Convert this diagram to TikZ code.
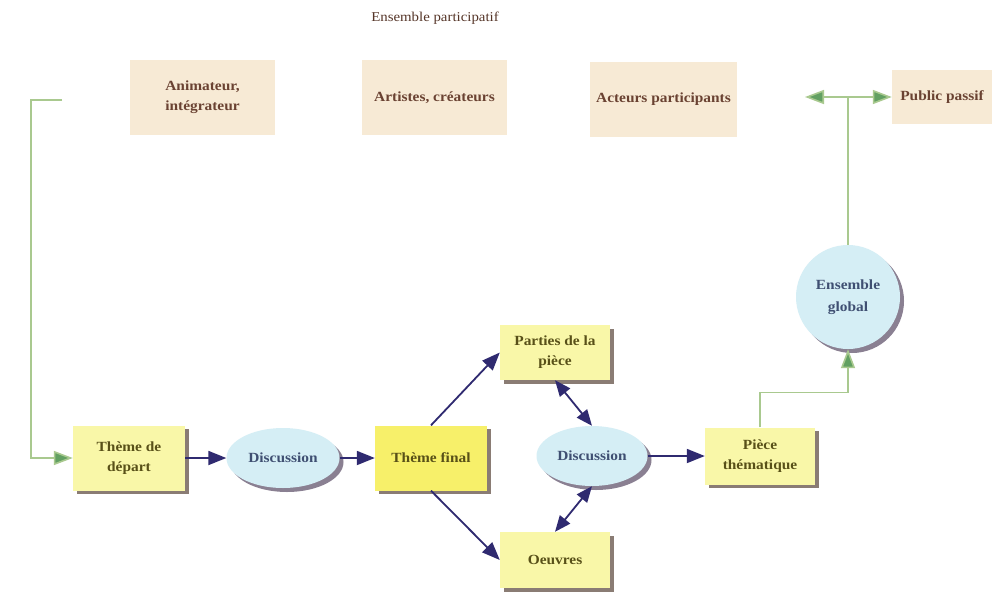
\documentclass[tikz,border=0pt]{standalone}
\usepackage{fontspec}
\setmainfont{Liberation Serif}[FakeStretch=1.1]
\usetikzlibrary{arrows.meta,shapes.geometric,shadows}
\definecolor{beige}{HTML}{F7EAD5}
\definecolor{lyel}{HTML}{F9F7A8}
\definecolor{byel}{HTML}{F7F06A}
\definecolor{lblue}{HTML}{D5EEF5}
\definecolor{shad}{HTML}{8A7C74}
\definecolor{eshad}{HTML}{8A8092}
\definecolor{brtext}{HTML}{6A4232}
\definecolor{oltext}{HTML}{585018}
\definecolor{bltext}{HTML}{3F4F72}
\definecolor{navy}{HTML}{2F2A70}
\definecolor{gline}{HTML}{A9C98F}
\definecolor{garrow}{HTML}{62A062}
\begin{document}
\begin{tikzpicture}[x=1pt,y=1pt,
  txt/.style={font=\fontsize{14}{20}\selectfont\bfseries, align=center},
  rolebox/.style={txt, fill=beige, text=brtext, inner sep=0pt},
  ybox/.style={txt, fill=lyel, text=oltext, inner sep=0pt, minimum width=110pt,
     drop shadow={shadow xshift=3.5pt, shadow yshift=-3.5pt, fill=shad, opacity=1}},
  ell/.style={txt, ellipse, fill=lblue, text=bltext, inner sep=0pt,
     drop shadow={shadow xshift=4pt, shadow yshift=-4pt, fill=eshad, opacity=1}},
  navyarrow/.style={draw=navy, line width=1.8pt, -{Triangle[length=18pt,width=14pt]}},
  navydbl/.style={draw=navy, line width=1.8pt, {Triangle[length=16pt,width=13pt]}-{Triangle[length=16pt,width=13pt]}},
  gl/.style={draw=gline, line width=1.6pt},
  garr/.style={gl, -{Triangle[length=19pt,width=14pt,fill=garrow]}},
]
\useasboundingbox (0,0) rectangle (998,-600);
\fill[white] (0,0) rectangle (998,-600);

% title
\node[font=\fontsize{13.5}{15}\selectfont, text=brtext!80!black] (title) at (435,-18) {Ensemble participatif};

% top row
\node[rolebox, minimum width=145pt, minimum height=75pt] (anim) at (202.5,-97.5) {Animateur,\\intégrateur};
\node[rolebox, minimum width=145pt, minimum height=75pt] (art) at (434.5,-97.5) {Artistes, créateurs};
\node[rolebox, minimum width=147pt, minimum height=75pt] (act) at (663.5,-99.5) {Acteurs participants};
\node[rolebox, minimum width=100pt, minimum height=54pt] (pub) at (942,-97) {Public passif};

% bottom flow
\node[ybox, minimum width=112pt, minimum height=65pt] (tdep) at (129,-458) {Thème de\\départ};
\node[ell, minimum width=113pt, minimum height=60pt] (disc1) at (283,-458) {Discussion};
\node[ybox, fill=byel, minimum width=112pt, minimum height=65pt] (tfin) at (431,-458) {Thème final};
\node[ybox, minimum height=55pt] (parts) at (555,-352.5) {Parties de la\\pièce};
\node[ybox, minimum height=56pt] (oeuv) at (555,-560) {Oeuvres};
\node[ell, minimum width=111pt, minimum height=60pt] (disc2) at (592,-456) {Discussion};
\node[ybox, minimum height=57pt] (piece) at (760,-456) {Pièce\\thématique};
\node[txt, circle, fill=lblue, text=bltext, minimum size=104pt, inner sep=0pt,
  font=\fontsize{14}{22}\selectfont\bfseries,
  drop shadow={shadow xshift=4pt, shadow yshift=-4pt, fill=eshad, opacity=1}] (glob) at (848,-297) {Ensemble\\global};

% green connectors
\coordinate (lstart) at (62,-100);
\coordinate (lcorner) at (31,-100);
\draw[garr] (lstart) -- (lcorner) |- (tdep.west);
\coordinate (tj) at (848,-97);
\coordinate (pleft) at (805,-97);
\draw[gl] (glob.north) -- (tj);
\draw[garr] (tj) -- (pleft);
\draw[garr] (tj) -- (pub.west);
\draw[garr] (piece.north) -- ++(0,35) -| (glob.south);

% navy connectors
\draw[navyarrow] (tdep.east) -- (disc1.west);
\draw[navyarrow] (disc1.east) -- (tfin.west);
\draw[navyarrow] (tfin.north) -- (parts.west);
\draw[navyarrow] (tfin.south) -- (oeuv.west);
\draw[navydbl] (parts.south) -- (disc2.north);
\draw[navydbl] (oeuv.north) -- (disc2.south);
\draw[navyarrow] (disc2.east) -- (piece.west);
\end{tikzpicture}
\end{document}
